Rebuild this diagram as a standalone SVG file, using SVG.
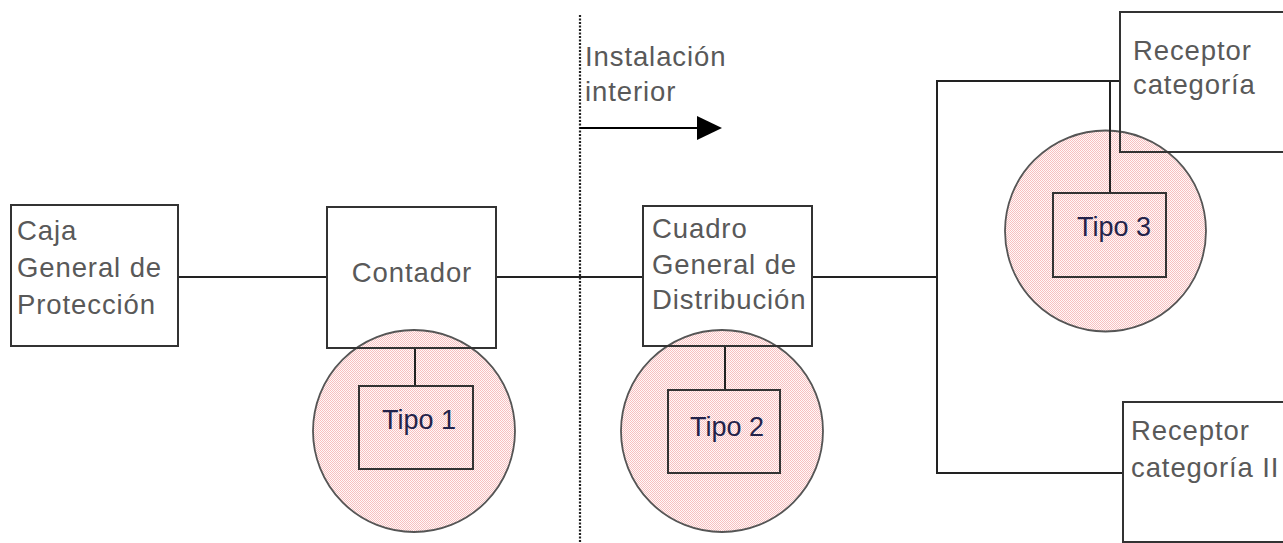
<svg xmlns="http://www.w3.org/2000/svg" width="1283" height="543" viewBox="0 0 1283 543">
<style>
.box{fill:none;stroke:#333;stroke-width:2}
.wire{fill:none;stroke:#222;stroke-width:2}
.zone{fill:url(#dots);stroke:#555;stroke-width:1.8}
.lbl{font-family:"Liberation Sans",Arial,sans-serif;font-size:27.5px;fill:#595959;letter-spacing:0.9px}
.tipo{font-family:"Liberation Sans",Arial,sans-serif;font-size:27px;fill:#23234a}
</style>
<defs>
<pattern id="dots" width="2" height="2" patternUnits="userSpaceOnUse">
<rect width="2" height="2" fill="#fff8f8"/>
<rect width="1" height="1" fill="#f7c0c0"/>
<rect x="1" y="1" width="1" height="1" fill="#f7c0c0"/>
</pattern>
<marker id="arr" markerWidth="26" markerHeight="26" refX="0" refY="13" orient="auto" markerUnits="userSpaceOnUse">
<path d="M0,1 L25,13 L0,25 Z" fill="#000"/>
</marker>
</defs>
<rect width="1283" height="543" fill="#fff"/>

<g id="zones">
<circle id="zone1" class="zone" cx="414" cy="431" r="101"/>
<circle id="zone2" class="zone" cx="722" cy="431" r="101"/>
<circle id="zone3" class="zone" cx="1105.5" cy="231" r="100.5"/>
</g>

<g id="connectors">
<line class="wire" x1="178" y1="277" x2="327" y2="277"/>
<line class="wire" x1="496" y1="277" x2="643" y2="277"/>
<line class="wire" x1="812" y1="277" x2="937" y2="277"/>
<polyline class="wire" points="1120,81 937,81 937,473 1123,473"/>
<line class="wire" x1="1110" y1="81" x2="1110" y2="193"/>
<line class="wire" x1="415" y1="348" x2="415" y2="386"/>
<line class="wire" x1="725" y1="346" x2="725" y2="390"/>
<line x1="580" y1="15" x2="580" y2="543" stroke="#222" stroke-width="2.2" stroke-dasharray="2 1.5"/>
<line x1="580" y1="128" x2="697" y2="128" stroke="#000" stroke-width="2" marker-end="url(#arr)"/>
</g>

<g id="caja">
<rect class="box" x="11" y="205" width="167" height="141"/>
<text class="lbl" x="17" y="240">Caja</text>
<text class="lbl" x="17" y="277">General de</text>
<text class="lbl" x="17" y="314">Protección</text>
</g>

<g id="contador">
<rect class="box" x="327" y="207" width="169" height="141"/>
<text class="lbl" x="412" y="282" text-anchor="middle">Contador</text>
</g>

<g id="cuadro">
<rect class="box" x="643" y="206" width="169" height="140"/>
<text class="lbl" x="652" y="238">Cuadro</text>
<text class="lbl" x="652" y="274">General de</text>
<text class="lbl" x="652" y="309">Distribución</text>
</g>

<g id="instalacion">
<text class="lbl" x="585" y="66">Instalación</text>
<text class="lbl" x="585" y="101">interior</text>
</g>

<g id="receptor1">
<rect class="box" x="1120" y="12" width="200" height="140"/>
<text class="lbl" x="1133" y="60">Receptor</text>
<text class="lbl" x="1133" y="94">categoría</text>
</g>

<g id="receptor2">
<rect class="box" x="1123" y="402" width="200" height="140"/>
<text class="lbl" x="1131" y="440">Receptor</text>
<text class="lbl" x="1131" y="477">categoría II</text>
</g>

<g id="tipo1">
<rect class="box" x="359" y="386" width="114" height="83"/>
<text class="tipo" x="382" y="429">Tipo 1</text>
</g>

<g id="tipo2">
<rect class="box" x="668" y="390" width="112" height="83"/>
<text class="tipo" x="690" y="436">Tipo 2</text>
</g>

<g id="tipo3">
<rect class="box" x="1053" y="193" width="113" height="84"/>
<text class="tipo" x="1077" y="236">Tipo 3</text>
</g>
</svg>
